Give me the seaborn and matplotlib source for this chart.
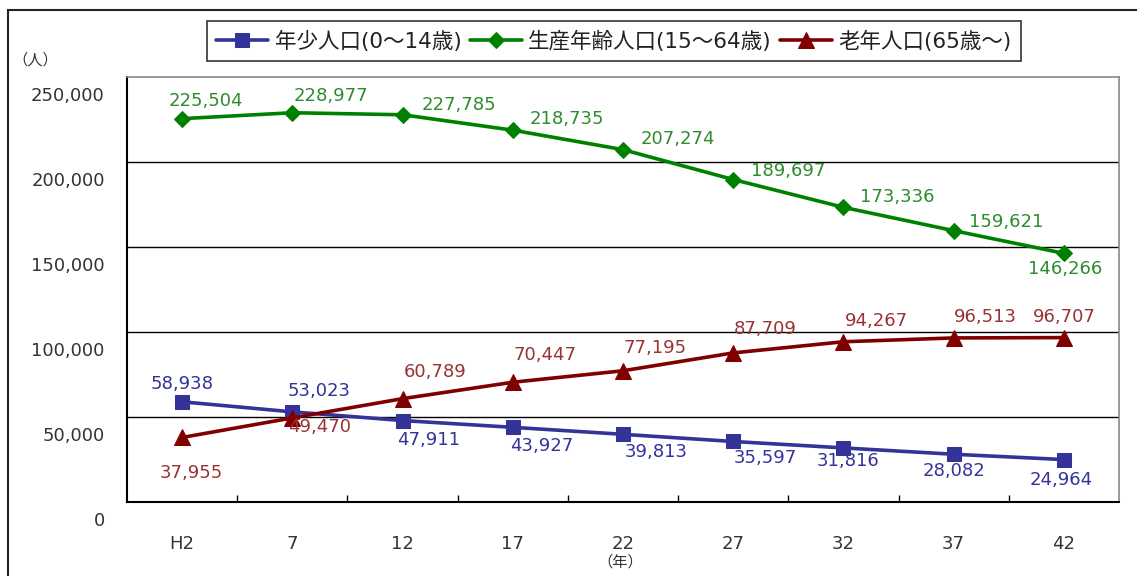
import matplotlib
matplotlib.use("Agg")
import matplotlib.pyplot as plt
import matplotlib.transforms as mtransforms
from matplotlib.patches import Rectangle
from matplotlib.ticker import FuncFormatter, FixedLocator
import seaborn as sns
import pandas as pd

years = ["H2", "7", "12", "17", "22", "27", "32", "37", "42"]
youth = [58938, 53023, 47911, 43927, 39813, 35597, 31816, 28082, 24964]
working = [225504, 228977, 227785, 218735, 207274, 189697, 173336, 159621, 146266]
elderly = [37955, 49470, 60789, 70447, 77195, 87709, 94267, 96513, 96707]
series_names = ["年少人口(0～14歳)", "生産年齢人口(15～64歳)", "老年人口(65歳～)"]

sns.set_theme(style="white")
FAM = ["DejaVu Sans", "Noto Sans CJK JP"]
plt.rcParams["font.family"] = FAM

colors = ["#333399", "#008000", "#800000"]
label_colors = ["#333399", "#2e8b2e", "#993333"]
markers = ["s", "D", "^"]
msizes = [10, 8.5, 11]

rows = []
for name, vals in zip(series_names, [youth, working, elderly]):
    for i, v in enumerate(vals):
        rows.append({"x": i, "value": v, "series": name})
df = pd.DataFrame(rows)

fig = plt.figure(figsize=(11.37, 5.76), dpi=100)
ax = fig.add_axes([127/1137, 1-502/576, (1119-127)/1137, (502-77)/576])

for name, c, m, ms in zip(series_names, colors, markers, msizes):
    sub = df[df["series"] == name]
    sns.lineplot(data=sub, x="x", y="value", ax=ax, color=c, marker=m,
                 markersize=ms, linewidth=2.6, markeredgecolor=c,
                 label=name, legend=False)

ax.set_xlim(-0.5, len(years) - 0.5)
ax.set_ylim(0, 250000)
ax.set_xlabel("")
ax.set_ylabel("")

ax.xaxis.set_major_locator(FixedLocator(range(len(years))))
ax.set_xticklabels(years)
ax.xaxis.set_minor_locator(FixedLocator([i + 0.5 for i in range(len(years) - 1)]))
ax.tick_params(axis="x", which="major", length=0, pad=24, labelsize=13, colors="#333333")
ax.tick_params(axis="x", which="minor", direction="in", length=5, width=1, color="black", bottom=True)

ax.yaxis.set_major_locator(FixedLocator([0, 50000, 100000, 150000, 200000, 250000]))
ax.yaxis.set_major_formatter(FuncFormatter(lambda v, p: f"{int(v):,}"))
ax.tick_params(axis="y", length=0, pad=16, labelsize=13, colors="#333333")
offset = mtransforms.ScaledTranslation(0, -17/100, fig.dpi_scale_trans)
for lab in ax.get_yticklabels():
    lab.set_transform(lab.get_transform() + offset)

for g in [50000, 100000, 150000, 200000]:
    ax.axhline(g, color="black", linewidth=1, zorder=0)

for side in ["left", "bottom"]:
    ax.spines[side].set_color("black")
    ax.spines[side].set_linewidth(1.5)
for side in ["top", "right"]:
    ax.spines[side].set_color("#888888")
    ax.spines[side].set_linewidth(1.2)

# data labels (offsets in pixels)
green_off = [(24, 18), (39, 17), (56, 10), (54, 11), (55, 11), (55, 9), (54, 10), (53, 9), (1, -16)]
red_off = [(9, -36), (27, -9), (33, 27), (32, 27), (32, 23), (32, 24), (33, 21), (32, 21), (0, 21)]
blue_off = [(0, 18), (27, 21), (26, -19), (29, -19), (33, -18), (32, -17), (5, -13), (0, -17), (-3, -20)]

def put_labels(vals, offs, color):
    for i, (v, (dx, dy)) in enumerate(zip(vals, offs)):
        ax.annotate(f"{v:,}", (i, v), xytext=(dx, dy), textcoords="offset pixels",
                    ha="center", va="center", color=color, fontsize=13)

put_labels(working, green_off, label_colors[1])
put_labels(elderly, red_off, label_colors[2])
put_labels(youth, blue_off, label_colors[0])

fig.text(35/1137, 1-60/576, "（人）", ha="center", va="center", fontsize=11,
         color="#333333", family=["Noto Sans CJK JP"])
fig.text(620/1137, 1-562/576, "（年）", ha="center", va="center", fontsize=11,
         color="#333333", family=["Noto Sans CJK JP"])

handles, labels = ax.get_legend_handles_labels()
leg = fig.legend(handles, labels, loc="center", bbox_to_anchor=(614/1137, 1-41/576),
                 ncol=3, frameon=True, fancybox=False, edgecolor="black",
                 prop={"family": FAM, "size": 15.5}, handlelength=2.4,
                 handletextpad=0.3, columnspacing=0.4,
                 borderpad=0.45, borderaxespad=0)
leg.get_frame().set_linewidth(1.2)
for t in leg.get_texts():
    t.set_color("#222222")

fig.patches.append(Rectangle((8/1137, -0.1), 1.2, 1 - 10/576 + 0.1, transform=fig.transFigure,
                             fill=False, edgecolor="#222222", linewidth=1.5))

fig.savefig("out.png", dpi=100)
